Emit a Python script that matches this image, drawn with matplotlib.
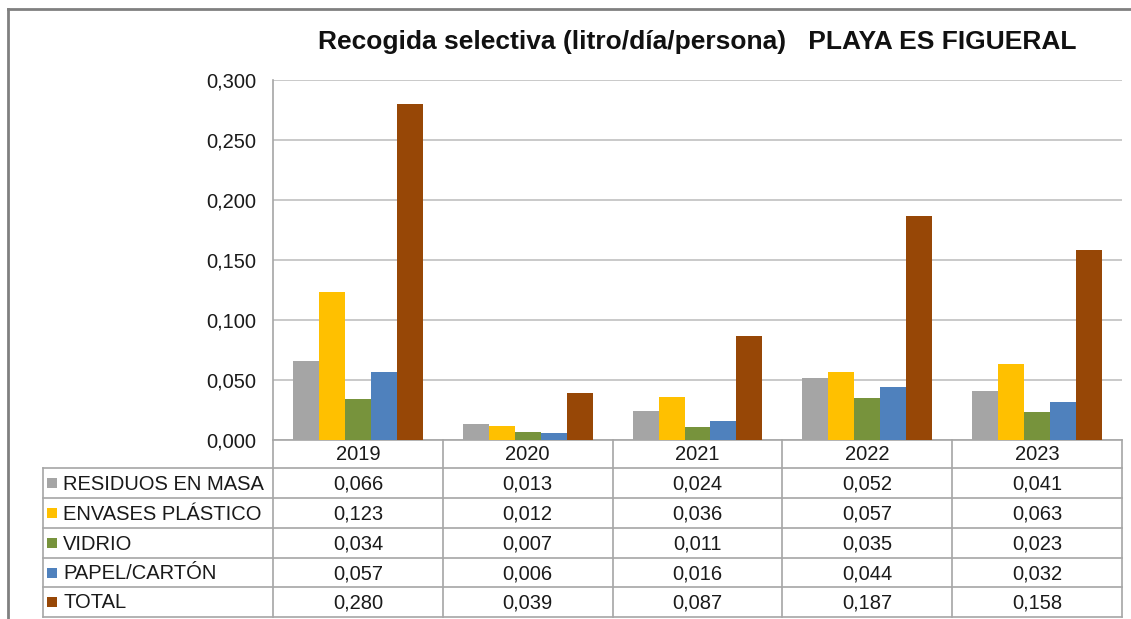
import matplotlib
matplotlib.use('Agg')
import matplotlib.pyplot as plt
import matplotlib.transforms as mtransforms
from matplotlib.patches import Rectangle
from matplotlib.lines import Line2D
import numpy as np

# datos
years = ['2019', '2020', '2021', '2022', '2023']
series = ['RESIDUOS EN MASA', 'ENVASES PLÁSTICO', 'VIDRIO', 'PAPEL/CARTÓN', 'TOTAL']
residuos = [0.066, 0.013, 0.024, 0.052, 0.041]
envases = [0.123, 0.012, 0.036, 0.057, 0.063]
vidrio = [0.034, 0.007, 0.011, 0.035, 0.023]
papel = [0.057, 0.006, 0.016, 0.044, 0.032]
total = [0.280, 0.039, 0.087, 0.187, 0.158]
colors = ['#A5A5A5', '#FFC000', '#77933C', '#4F81BD', '#974706']
title = 'Recogida selectiva (litro/día/persona)   PLAYA ES FIGUERAL'

values = [residuos, envases, vidrio, papel, total]

W, H = 1131, 619
plt.rcParams['font.family'] = ['Liberation Sans', 'DejaVu Sans']
fig = plt.figure(figsize=(W / 100, H / 100), dpi=100)


def fx(px):
    return px / W


def fy(py):
    return 1 - py / H


ax = fig.add_axes([fx(273), fy(440), fx(1122) - fx(273), fy(80) - fy(440)])

x = np.arange(len(years))
w = 0.153
for k, vals in enumerate(values):
    ax.bar(x + (k - 2) * w, vals, width=w, color=colors[k], edgecolor='none', zorder=3)

ax.set_xlim(-0.5, len(years) - 0.5)
ax.set_ylim(0, 0.3)
ax.set_yticks(np.arange(0, 0.301, 0.05))
ax.set_yticklabels([f'{v:.3f}'.replace('.', ',') for v in np.arange(0, 0.301, 0.05)])
ax.tick_params(axis='y', length=0, pad=12, labelsize=14.5, labelcolor='#1a1a1a')
ax.set_xticks([])
ax.grid(axis='y', color='#C0C0C0', linewidth=1.2, zorder=0)
for s in ['top', 'right']:
    ax.spines[s].set_visible(False)
ax.spines['left'].set_color('#A6A6A6')
ax.spines['bottom'].set_color('#A6A6A6')
ax.spines['left'].set_linewidth(1.2)
ax.spines['bottom'].set_linewidth(1.2)

fig.text(fx(697), fy(42), title, ha='center', va='center', fontsize=19,
         fontweight='bold', color='#111111')

# tabla de datos
tr = mtransforms.blended_transform_factory(ax.transData, fig.transFigure)
lc = '#A6A6A6'
row_lines = [468, 498, 528, 558, 587, 617]
x_left = fx(43)
fs = 14.5

# cabecera (años)
for i, yr in enumerate(years):
    fig.text(i, fy(455), yr, transform=tr, ha='center', va='center', fontsize=fs, color='#1a1a1a')
for b in np.arange(-0.5, len(years), 1.0):
    fig.add_artist(Line2D([b, b], [fy(440), fy(617)], transform=tr, color=lc, lw=1.2))

for yl in row_lines:
    fig.add_artist(Line2D([x_left, fx(1122)], [fy(yl), fy(yl)], transform=fig.transFigure, color=lc, lw=1.2))
fig.add_artist(Line2D([x_left, x_left], [fy(468), fy(617)], transform=fig.transFigure, color=lc, lw=1.2))

for r, name in enumerate(series):
    yc = (row_lines[r] + row_lines[r + 1]) / 2
    fig.add_artist(Rectangle((fx(47), fy(yc + 5)), fx(10), 10 / H, transform=fig.transFigure,
                             facecolor=colors[r], edgecolor='none'))
    fig.text(fx(63), fy(yc + 1), name, ha='left', va='center', fontsize=fs, color='#1a1a1a')
    for i, v in enumerate(values[r]):
        fig.text(i, fy(yc + 1), f'{v:.3f}'.replace('.', ','), transform=tr, ha='center', va='center',
                 fontsize=fs, color='#1a1a1a')

# borde exterior
fig.add_artist(Line2D([fx(8), fx(8)], [fy(9), 0], transform=fig.transFigure, color='#808080', lw=2))
fig.add_artist(Line2D([fx(8), 1], [fy(9), fy(9)], transform=fig.transFigure, color='#808080', lw=2))

fig.savefig('out.png', dpi=100)
